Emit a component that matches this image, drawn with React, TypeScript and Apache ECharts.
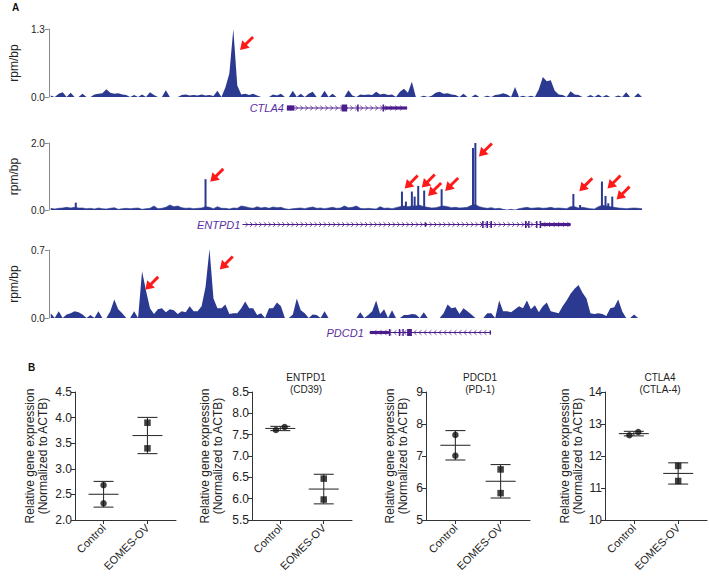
import React, { useEffect, useRef } from 'react';
import * as echarts from 'echarts';

const FONT = '"Liberation Sans", Arial, Helvetica, sans-serif';
const TRACK_COLOR = '#2b3990';
const GENE_COLOR = '#4a1c8c';
const GENE_LABEL_COLOR = '#5b2ea3';
const ARROW_COLOR = '#ff1a1a';
const INK = '#222';

// ---------- Panel A: coverage tracks (rpm/bp), 150 equal genomic bins per locus ----------
const ctla4Coverage = [
  0.03, 0, 0.06, 0.09, 0, 0.08, 0, 0, 0.06, 0,
  0, 0.05, 0.06, 0.07, 0.15, 0.08, 0.06, 0.07, 0.05, 0.04,
  0, 0.04, 0, 0.05, 0, 0.09, 0.04, 0, 0, 0.13,
  0, 0, 0, 0.04, 0.05, 0.03, 0.04, 0.03, 0.05, 0.03,
  0.04, 0.02, 0.12, 0, 0.18, 0.45, 1.3, 0.22, 0.05, 0.06,
  0.04, 0.06, 0.03, 0, 0, 0, 0.05, 0.03, 0.06, 0,
  0, 0.12, 0, 0.06, 0, 0.06, 0.1, 0, 0, 0.12,
  0, 0.06, 0, 0, 0, 0.13, 0.03, 0, 0.05, 0.04,
  0.05, 0.04, 0.1, 0.05, 0.06, 0.04, 0.05, 0, 0.1, 0.16,
  0.08, 0.29, 0, 0, 0.025, 0, 0.025, 0.08, 0.1, 0.06,
  0.07, 0.05, 0.04, 0, 0.06, 0, 0, 0.05, 0, 0,
  0.025, 0, 0.04, 0.05, 0.07, 0.05, 0, 0.19, 0, 0.025,
  0, 0.025, 0, 0.15, 0.38, 0.3, 0.32, 0.12, 0.05, 0.04,
  0, 0.11, 0.05, 0.04, 0, 0, 0.04, 0, 0.05, 0,
  0.04, 0, 0, 0.03, 0, 0.09, 0, 0, 0.07, 0,
];
// ENTPD1 background coverage (narrow spikes listed separately below)
const entpd1Coverage = [
  0.05, 0.03, 0.05, 0.06, 0.08, 0.06, 0.08, 0.06, 0.06, 0.04,
  0.05, 0.03, 0.06, 0.04, 0.03, 0.05, 0.07, 0.02, 0.04, 0.05,
  0.04, 0.05, 0.06, 0.02, 0.04, 0.05, 0.12, 0.04, 0.05, 0.08,
  0.15, 0.1, 0.12, 0.07, 0.05, 0.06, 0.04, 0.05, 0.06, 0.1,
  0.08, 0.04, 0.1, 0.05, 0.05, 0.03, 0.06, 0.05, 0.12, 0.1,
  0.07, 0.05, 0.1, 0.06, 0.08, 0.05, 0.09, 0.07, 0.08, 0.04,
  0.02, 0.04, 0.05, 0.06, 0.04, 0.07, 0.09, 0.05, 0.06, 0.04,
  0.06, 0.08, 0.05, 0.06, 0.12, 0.07, 0.08, 0.12, 0.05, 0.04,
  0.05, 0.04, 0.03, 0.1, 0.05, 0.06, 0.04, 0.07, 0.1, 0.12,
  0.1, 0.12, 0.12, 0.14, 0.1, 0.08, 0.06, 0.07, 0.1, 0.12,
  0.1, 0.07, 0.08, 0.06, 0.07, 0.08, 0.14, 0.16, 0.1, 0.07,
  0.05, 0.07, 0.04, 0.05, 0.02, 0, 0.02, 0, 0.04, 0.06,
  0.08, 0.05, 0.06, 0.07, 0.05, 0.06, 0.08, 0.05, 0.06, 0.05,
  0.04, 0.1, 0.1, 0.06, 0.08, 0.06, 0.04, 0.03, 0.1, 0.14,
  0.12, 0.1, 0.08, 0.06, 0.05, 0.04, 0.05, 0.06, 0.05, 0.04,
];
// ENTPD1 narrow spikes [bin position, rpm/bp]
const entpd1Spikes = [
  [6.3, 0.22], [39.0, 0.92], [88.5, 0.55], [89.5, 0.25], [91.0, 0.55], [91.7, 0.4],
  [92.6, 0.72], [94.1, 0.58], [98.5, 0.62], [106.4, 1.85], [107.0, 2.0],
  [131.7, 0.48], [133.4, 0.15], [138.9, 0.85], [139.8, 0.42], [140.5, 0.2], [141.5, 0.4],
];
const pdcd1Coverage = [
  0.05, 0, 0.07, 0, 0.035, 0.05, 0.07, 0.06, 0.035, 0,
  0.03, 0, 0.07, 0, 0, 0.07, 0.19, 0.09, 0.05, 0,
  0, 0.07, 0, 0.48, 0.28, 0.1, 0.04, 0.09, 0.1, 0.06,
  0.09, 0.08, 0.04, 0.07, 0.06, 0.12, 0.07, 0.07, 0.12, 0.32,
  0.71, 0.2, 0.1, 0.1, 0.14, 0.04, 0.05, 0.05, 0.1, 0.17,
  0.1, 0.1, 0.03, 0.05, 0, 0.1, 0.1, 0.16, 0.12, 0,
  0, 0.035, 0.2, 0.08, 0.05, 0, 0.035, 0.03, 0, 0.07,
  0, 0, 0, 0, 0, 0, 0, 0, 0.06, 0,
  0.03, 0.07, 0.18, 0.04, 0.09, 0, 0.08, 0, 0, 0.03,
  0.03, 0.04, 0.035, 0, 0.06, 0, 0, 0, 0, 0.05,
  0.14, 0.1, 0.11, 0.04, 0.1, 0.07, 0.035, 0, 0, 0,
  0.05, 0.05, 0, 0.18, 0.07, 0.07, 0.06, 0.09, 0.12, 0.1,
  0.18, 0.09, 0.13, 0.06, 0.12, 0.16, 0.07, 0.06, 0.05, 0.12,
  0.18, 0.25, 0.3, 0.34, 0.26, 0.2, 0.05, 0.04, 0.05, 0.04,
  0.02, 0.1, 0.11, 0.19, 0.07, 0, 0, 0.035, 0, 0,
];
const trackMax = [1.3, 2.0, 0.7];

// red arrows, tip position [bin, rpm/bp]
const ctla4Arrows = [[47.7, 0.9]];
const entpd1Arrows = [
  [40.2, 0.84], [89.2, 0.64], [93.5, 0.67], [95.1, 0.42], [99.4, 0.57],
  [107.9, 1.6], [133.2, 0.56], [140.3, 0.64], [142.6, 0.31],
];
const pdcd1Arrows = [[23.8, 0.29], [42.6, 0.5]];

// gene models in bin units: span, exons [start, end, relative height], strand
const ctla4Span = [59.5, 89.8];
const ctla4Exons = [[59.5, 61.4, 0.75], [73.3, 74.7, 1], [77.2, 77.6, 1], [83.6, 84.0, 1], [84.0, 89.8, 0.45]];
const entpd1Span = [48.3, 131.0];
const entpd1Exons = [
  [94.2, 94.6, 0.6], [108.7, 109.1, 1], [109.8, 110.2, 1], [110.8, 111.2, 1],
  [119.5, 119.9, 1], [120.3, 120.6, 1], [122.3, 122.6, 1], [123.2, 123.6, 1], [123.6, 131.0, 0.45],
];
const pdcd1Span = [80.4, 110.8];
const pdcd1Exons = [[80.4, 85.2, 0.45], [85.2, 85.6, 1], [87.7, 88.0, 1], [88.6, 88.9, 1], [89.8, 91.0, 1], [110.6, 110.8, 0.6]];
const geneNames = ['CTLA4', 'ENTPD1', 'PDCD1'];
const geneStrands = [1, 1, -1];

// ---------- Panel B: qPCR ----------
const categories = ['Control', 'EOMES-OV'];
const panelTitles = ['', 'ENTPD1\n(CD39)', 'PDCD1\n(PD-1)', 'CTLA4\n(CTLA-4)'];
const eomesControl = [2.68, 2.325];
const eomesOV = [3.9, 3.4];
const entpd1Control = [7.61, 7.68];
const entpd1OV = [6.47, 5.98];
const pdcd1Control = [7.66, 7.01];
const pdcd1OV = [6.58, 5.84];
const ctla4Control = [12.65, 12.75];
const ctla4OV = [11.69, 11.22];
const controlJitter = [[0, 0], [-0.1, 0.1], [0, 0], [-0.1, 0.1]];
const yMins = [2, 5.5, 5, 10];
const yMaxs = [4.5, 8.5, 9, 14];
const ySteps = [0.5, 0.5, 1, 1];
const yDecimals = [1, 1, 0, 0];

const ARROW_PATH = 'path://M0,20 L3,6.5 L6.8,10.3 L16.8,0.3 L19.7,3.2 L9.7,13.2 L13.5,17 Z';

function mean(a: number[]) { return a.reduce((s, v) => s + v, 0) / a.length; }
function sd(a: number[]) {
  const m = mean(a);
  return Math.sqrt(a.reduce((s, v) => s + (v - m) * (v - m), 0) / (a.length - 1));
}

function geneRenderer(span: number[], exons: number[][], strand: number, label: string, gap: number, labelGap: number, spacing: number) {
  return (_params: any, api: any) => {
    const p0 = api.coord([span[0], 0]);
    const p1 = api.coord([span[1], 0]);
    const y = p0[1] + gap;
    const x0 = p0[0];
    const x1 = p1[0];
    const children: any[] = [
      { type: 'line', shape: { x1: x0, y1: y, x2: x1, y2: y }, style: { stroke: GENE_COLOR, lineWidth: 1 } },
    ];
    const d = strand > 0 ? 1 : -1;
    for (let x = x0 + spacing; x < x1 - 1; x += spacing) {
      children.push({
        type: 'polyline',
        shape: { points: [[x - 1.6 * d, y - 2.3], [x + 0.9 * d, y], [x - 1.6 * d, y + 2.3]] },
        style: { stroke: GENE_COLOR, lineWidth: 0.8, fill: null },
      });
    }
    exons.forEach(([s, e, h]) => {
      const a = api.coord([s, 0])[0];
      const b = api.coord([e, 0])[0];
      const hh = 7 * h;
      children.push({ type: 'rect', shape: { x: a, y: y - hh / 2, width: Math.max(b - a, 1.4), height: hh }, style: { fill: GENE_COLOR } });
    });
    children.push({
      type: 'text',
      style: {
        text: label, x: x0 - labelGap, y,
        align: 'right', verticalAlign: 'middle', textAlign: 'right', textVerticalAlign: 'middle',
        fontSize: 11, fontStyle: 'italic', fontFamily: FONT, fill: GENE_LABEL_COLOR,
      },
    });
    return { type: 'group', children };
  };
}

function buildOption() {
  const grid: any[] = [];
  const xAxis: any[] = [];
  const yAxis: any[] = [];
  const series: any[] = [];
  const graphic: any[] = [];

  // ----- panel A -----
  const trackTops = [29, 143, 250];
  const trackHeights = [68, 67, 68];
  const coverages = [ctla4Coverage, entpd1Coverage, pdcd1Coverage];
  const arrows = [ctla4Arrows, entpd1Arrows, pdcd1Arrows];
  const spans = [ctla4Span, entpd1Span, pdcd1Span];
  const exons = [ctla4Exons, entpd1Exons, pdcd1Exons];
  const geneGaps = [11, 14.5, 14.5];
  const labelGaps = [3, 2, 6];
  const chevronSpacing = [5, 4.6, 5];

  for (let k = 0; k < 3; k++) {
    grid.push({ left: 37, width: 607, top: trackTops[k], height: trackHeights[k] });
    xAxis.push({ type: 'value', gridIndex: k, min: -0.5, max: coverages[k].length - 0.5, show: false });
    yAxis.push({
      type: 'value', gridIndex: k, min: 0, max: trackMax[k], interval: trackMax[k],
      name: 'rpm/bp', nameLocation: 'middle', nameRotate: 90, nameGap: 21,
      nameTextStyle: { fontSize: 12, color: INK, fontFamily: FONT },
      axisLine: { show: true, onZero: false, lineStyle: { color: '#8a8a8a', width: 1 } },
      axisTick: { show: true, length: 4, lineStyle: { color: '#8a8a8a' } },
      axisLabel: { fontSize: 10, color: INK, margin: 4, fontFamily: FONT, formatter: (v: number) => v.toFixed(1) },
      splitLine: { show: false },
    });
    series.push({
      type: 'line', xAxisIndex: k, yAxisIndex: k,
      data: coverages[k].map((v, i) => [i, v]),
      symbol: 'none', silent: true,
      lineStyle: { width: k === 1 ? 0.6 : 0, color: TRACK_COLOR },
      areaStyle: { color: TRACK_COLOR, opacity: 1 },
      markPoint: {
        symbol: ARROW_PATH, symbolSize: 14, symbolOffset: [7, -7], silent: true,
        itemStyle: { color: ARROW_COLOR },
        label: { show: false },
        data: arrows[k].map((c) => ({ coord: c })),
      },
    });
    if (k === 1) {
      series.push({
        type: 'bar', xAxisIndex: k, yAxisIndex: k, silent: true,
        data: entpd1Spikes, barWidth: 2, itemStyle: { color: TRACK_COLOR },
      });
    }
    series.push({
      type: 'custom', xAxisIndex: k, yAxisIndex: k, silent: true, clip: false,
      data: [[spans[k][0], 0]],
      renderItem: geneRenderer(spans[k], exons[k], geneStrands[k], geneNames[k], geneGaps[k], labelGaps[k], chevronSpacing[k]),
    });
  }

  // ----- panel B -----
  const dotLefts = [75, 252, 426, 605];
  const dotWidths = [101, 100, 104, 102];
  const nameGaps = [26, 28, 17, 21];
  const titleCenters = [0, 306, 480, 660];
  const controls = [eomesControl, entpd1Control, pdcd1Control, ctla4Control];
  const ovs = [eomesOV, entpd1OV, pdcd1OV, ctla4OV];
  for (let j = 0; j < 4; j++) {
    const gi = 3 + j;
    grid.push({ left: dotLefts[j], width: dotWidths[j], top: 392, height: 128 });
    xAxis.push({
      type: 'value', gridIndex: gi, min: -0.65, max: 1.65,
      axisLine: { show: true, onZero: false, lineStyle: { color: '#333', width: 1 } },
      axisTick: { show: true, length: 4, customValues: [0, 1], lineStyle: { color: '#333' } },
      axisLabel: {
        customValues: [0, 1], rotate: 45, fontSize: 11, color: INK, margin: 6, fontFamily: FONT,
        formatter: (v: number) => categories[Math.round(v)] ?? '',
      },
      splitLine: { show: false },
    });
    yAxis.push({
      type: 'value', gridIndex: gi, min: yMins[j], max: yMaxs[j], interval: ySteps[j],
      name: 'Relative gene expression\n(Normalized to ACTB)', nameLocation: 'middle', nameRotate: 90, nameGap: nameGaps[j],
      nameTextStyle: { fontSize: 12, color: INK, lineHeight: 13, fontFamily: FONT },
      axisLine: { show: true, onZero: false, lineStyle: { color: '#333', width: 1 } },
      axisTick: { show: true, length: 4, lineStyle: { color: '#333' } },
      axisLabel: { fontSize: 12, color: INK, margin: 3, fontFamily: FONT, formatter: (v: number) => v.toFixed(yDecimals[j]) },
      splitLine: { show: false },
    });
    const stats = [[0, mean(controls[j]), sd(controls[j])], [1, mean(ovs[j]), sd(ovs[j])]];
    series.push({
      type: 'custom', xAxisIndex: gi, yAxisIndex: gi, silent: true, z: 2,
      data: stats,
      renderItem: (_p: any, api: any) => {
        const x = api.value(0);
        const m = api.value(1);
        const s = api.value(2);
        const pm = api.coord([x, m]);
        const ph = api.coord([x, m + s]);
        const pl = api.coord([x, m - s]);
        const st = { stroke: '#333', lineWidth: 1.1 };
        return {
          type: 'group',
          children: [
            { type: 'line', shape: { x1: pm[0] - 15, y1: pm[1], x2: pm[0] + 15, y2: pm[1] }, style: st },
            { type: 'line', shape: { x1: ph[0], y1: ph[1], x2: pl[0], y2: pl[1] }, style: st },
            { type: 'line', shape: { x1: ph[0] - 10, y1: ph[1], x2: ph[0] + 10, y2: ph[1] }, style: st },
            { type: 'line', shape: { x1: pl[0] - 10, y1: pl[1], x2: pl[0] + 10, y2: pl[1] }, style: st },
          ],
        };
      },
    });
    series.push({
      type: 'scatter', xAxisIndex: gi, yAxisIndex: gi, silent: true, z: 3,
      symbol: 'circle', symbolSize: 6.5, itemStyle: { color: '#111' },
      data: controls[j].map((v, i) => [controlJitter[j][i], v]),
    });
    series.push({
      type: 'scatter', xAxisIndex: gi, yAxisIndex: gi, silent: true, z: 3,
      symbol: 'rect', symbolSize: 6.5, itemStyle: { color: '#111' },
      data: ovs[j].map((v) => [1, v]),
    });
    if (panelTitles[j]) {
      graphic.push({
        type: 'text', x: titleCenters[j], y: 372,
        style: {
          text: panelTitles[j], fontSize: 10, lineHeight: 11.5, fill: INK, fontFamily: FONT,
          align: 'center', textAlign: 'center', verticalAlign: 'top', textVerticalAlign: 'top',
        },
      });
    }
  }

  graphic.push({ type: 'text', left: 12, top: 2, style: { text: 'A', fontSize: 10, fontWeight: 'bold', fill: '#111', fontFamily: FONT } });
  graphic.push({ type: 'text', left: 28, top: 362, style: { text: 'B', fontSize: 10, fontWeight: 'bold', fill: '#111', fontFamily: FONT } });

  return {
    animation: false,
    backgroundColor: '#fff',
    textStyle: { fontFamily: FONT },
    grid, xAxis, yAxis, series, graphic,
  };
}

export default function App() {
  const ref = useRef<HTMLDivElement>(null);
  useEffect(() => {
    const chart = echarts.init(ref.current as HTMLDivElement, null, { renderer: 'svg' });
    chart.setOption(buildOption() as any);
    return () => chart.dispose();
  }, []);
  return <div ref={ref} style={{ position: 'fixed', left: 0, top: 0, width: 709, height: 577, background: '#fff' }} />;
}
